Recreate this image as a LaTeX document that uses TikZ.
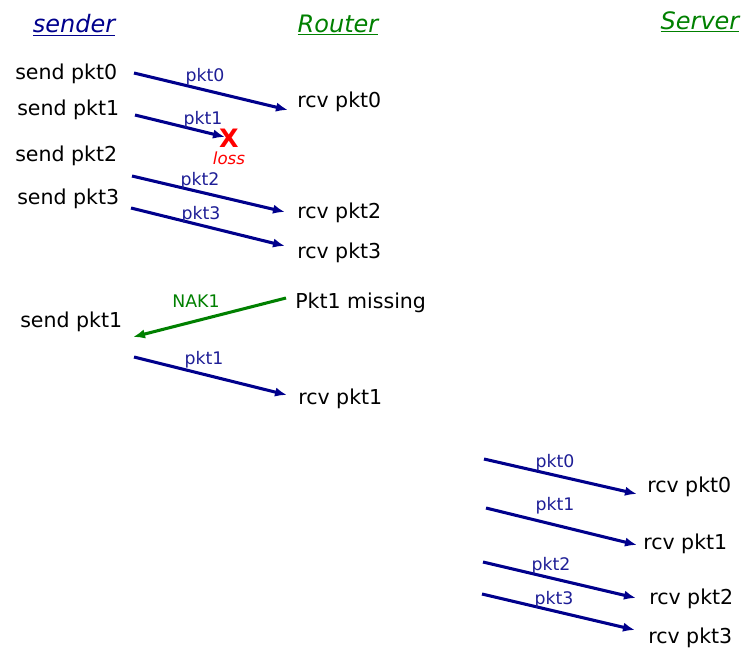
\documentclass[tikz,border=0pt]{standalone}
\usepackage{fontspec}
\setmainfont{DejaVu Sans}
\usetikzlibrary{arrows.meta}
\definecolor{pktblue}{RGB}{0,0,140}
\definecolor{lblblue}{RGB}{30,30,150}
\definecolor{nakgreen}{RGB}{0,128,0}
\tikzset{
  evt/.style={anchor=west, inner sep=0pt, yshift=-1.5pt, font=\fontsize{15.4}{18}\selectfont},
  pktlbl/.style={inner sep=0pt, yshift=-1pt, text=lblblue, font=\fontsize{13}{15}\selectfont},
  msg/.style={line width=2.3pt, pktblue, -{Latex[length=9pt,width=7pt]}},
  nakmsg/.style={msg, nakgreen},
  colhead/.style={inner sep=0pt, font=\fontsize{18}{22}\selectfont\itshape},
}
\begin{document}
\begin{tikzpicture}[x=0.75pt,y=-0.75pt]
        \useasboundingbox (0,0) rectangle (749,665);
        % column headings
        \node[colhead, text=pktblue] (sender) at (74,25) {\underline{sender}};
        \node[colhead, text=nakgreen] (router) at (338,25) {\underline{Router}};
        \node[colhead, text=nakgreen] (server) at (700,22) {\underline{Server}};
        % sender side
        \node[evt] (s0) at (15,72) {send pkt0};
        \node[evt] (s1) at (17,108) {send pkt1};
        \node[evt] (s2) at (15,154) {send pkt2};
        \node[evt] (s3) at (17,197) {send pkt3};
        \node[evt] (s1b) at (20,320) {send pkt1};
        % router side
        \node[evt] (r0) at (297,100) {rcv pkt0};
        \node[evt] (r2) at (297,211) {rcv pkt2};
        \node[evt] (r3) at (297,251) {rcv pkt3};
        \node[evt] (miss) at (295,301) {Pkt1 missing};
        \node[evt] (r1) at (298,397) {rcv pkt1};
        % server side
        \node[evt] (v0) at (647,485) {rcv pkt0};
        \node[evt] (v1) at (643,542) {rcv pkt1};
        \node[evt] (v2) at (649,597) {rcv pkt2};
        \node[evt] (v3) at (648,636) {rcv pkt3};
        % arrow ends
        \coordinate (a0s) at (134,73);  \coordinate (a0e) at (288,110);
        \coordinate (a1s) at (135,115); \coordinate (a1e) at (225,137);
        \coordinate (a2s) at (132,176); \coordinate (a2e) at (285,212);
        \coordinate (a3s) at (131,208); \coordinate (a3e) at (285,246);
        \coordinate (nks) at (286,298); \coordinate (nke) at (133,337);
        \coordinate (a4s) at (134,357); \coordinate (a4e) at (287,395);
        \coordinate (b0s) at (484,459); \coordinate (b0e) at (637,494);
        \coordinate (b1s) at (486,508); \coordinate (b1e) at (637,545);
        \coordinate (b2s) at (483,562); \coordinate (b2e) at (636,598);
        \coordinate (b3s) at (482,594); \coordinate (b3e) at (635,630);
        % sender to router
        \draw[msg] (a0s)--(a0e);
        \draw[msg] (a1s)--(a1e);
        \draw[msg] (a2s)--(a2e);
        \draw[msg] (a3s)--(a3e);
        \draw[nakmsg] (nks)--(nke);
        \draw[msg] (a4s)--(a4e);
        % router to server
        \draw[msg] (b0s)--(b0e);
        \draw[msg] (b1s)--(b1e);
        \draw[msg] (b2s)--(b2e);
        \draw[msg] (b3s)--(b3e);
        % labels on the arrows
        \node[pktlbl] (l0) at (205,75) {pkt0};
        \node[pktlbl] (l1) at (203,118) {pkt1};
        \node[pktlbl] (l2) at (200,179) {pkt2};
        \node[pktlbl] (l3) at (201,213) {pkt3};
        \node[pktlbl, text=nakgreen] (lnak) at (196,300) {NAK1};
        \node[pktlbl] (l4) at (204,358) {pkt1};
        \node[pktlbl] (m0) at (555,461) {pkt0};
        \node[pktlbl] (m1) at (555,504) {pkt1};
        \node[pktlbl] (m2) at (551,564) {pkt2};
        \node[pktlbl] (m3) at (554,598) {pkt3};
        % lost packet
        \node[inner sep=0pt, text=red, font=\fontsize{19}{22}\selectfont\bfseries] (lossx) at (229,138) {X};
        \node[inner sep=0pt, text=red, font=\fontsize{12.5}{15}\selectfont\itshape] (losslbl) at (229,158) {loss};
        \end{tikzpicture}
\end{document}
